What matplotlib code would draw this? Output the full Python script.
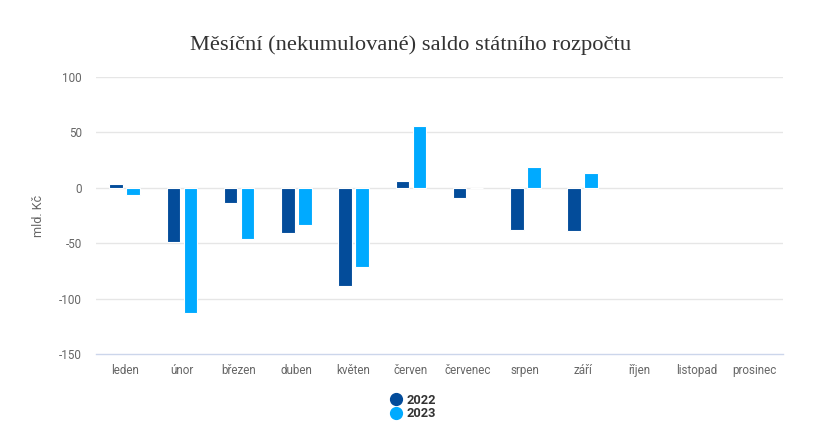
import matplotlib
matplotlib.use("Agg")
import matplotlib.pyplot as plt
from matplotlib.lines import Line2D
from matplotlib import font_manager as fm
import numpy as np

months = ["leden", "únor", "březen", "duben", "květen", "červen", "červenec",
          "srpen", "září", "říjen", "listopad", "prosinec"]
s2022 = [3.0, -49.0, -13.9, -40.9, -88.6, 5.7, -9.3, -38.2, -39.1, np.nan, np.nan, np.nan]
s2023 = [-6.6, -113.0, -46.3, -33.7, -71.5, 55.2, 0.0, 18.3, 12.9, np.nan, np.nan, np.nan]
yticks = [100, 50, 0, -50, -100, -150]

c2022 = "#034C9A"
c2023 = "#00AAFF"


def pick_roboto(weight):
    best = None
    for f in fm.fontManager.ttflist:
        if f.name == "Roboto" and f.style == "normal" and "ondensed" not in f.fname:
            w = f.weight if isinstance(f.weight, int) else 400
            st = f.stretch if isinstance(f.stretch, int) else 500
            score = abs(w - weight) + abs(st - 500) * 2
            if best is None or score < best[0]:
                best = (score, f.fname)
    return best[1] if best else None


rf = pick_roboto(400)
rb = pick_roboto(600)


def fp(fname, size):
    if fname:
        return fm.FontProperties(fname=fname, size=size)
    return fm.FontProperties(family="DejaVu Sans", size=size)


W, H = 823, 436
fig = plt.figure(figsize=(W / 100, H / 100), dpi=100)
ax = fig.add_axes([96 / W, 1 - 354.3 / H, (783 - 96) / W, (354.3 - 76.7) / H])

x = np.arange(len(months))
bw = 0.235
off = 0.148
ax.bar(x - off, s2022, width=bw, color=c2022, edgecolor="white", linewidth=0.8, zorder=3)
ax.bar(x + off, s2023, width=bw, color=c2023, edgecolor="white", linewidth=0.8, zorder=3)

ax.set_xlim(-0.5, len(months) - 0.5)
ax.set_ylim(-150, 100)
ax.set_yticks(yticks)
ax.set_xticks(x)
ax.set_yticklabels([str(t) for t in yticks], fontproperties=fp(rf, 8.4))
ax.set_xticklabels(months, fontproperties=fp(rf, 8.4))

for t in yticks:
    if t == -150:
        continue
    ax.axhline(t, color="#e6e6e6", linewidth=1, zorder=1)

for s in ["top", "right", "left"]:
    ax.spines[s].set_visible(False)
ax.spines["bottom"].set_color("#ccd6eb")
ax.spines["bottom"].set_linewidth(1)
ax.tick_params(axis="both", length=0, colors="#666666")
ax.tick_params(axis="x", pad=7)
ax.tick_params(axis="y", pad=10)

ax.set_ylabel("mld. Kč", fontproperties=fp(rf, 9), color="#666666")
ax.yaxis.set_label_coords(-(96 - 45) / (783 - 96), 0.5)

fig.text(411 / W, 1 - 45 / H, "Měsíční (nekumulované) saldo státního rozpočtu",
         ha="center", va="center", fontsize=16.2, color="#333333", family="Liberation Serif")

handles = [Line2D([0], [0], marker="o", linestyle="", markersize=8.5, markerfacecolor=c2022,
                  markeredgecolor=c2022, label="2022"),
           Line2D([0], [0], marker="o", linestyle="", markersize=8.5, markerfacecolor=c2023,
                  markeredgecolor=c2023, label="2023")]
lp = fp(rb, 9.2)
if rb == rf:
    lp.set_weight("bold")
leg = fig.legend(handles=handles, loc="center", bbox_to_anchor=(413 / W, 1 - 407 / H),
                 frameon=False, handletextpad=0.3, labelspacing=0.05, handlelength=1.0,
                 prop=lp)
for t in leg.get_texts():
    t.set_color("#333333")

fig.savefig("out.png", dpi=100)
